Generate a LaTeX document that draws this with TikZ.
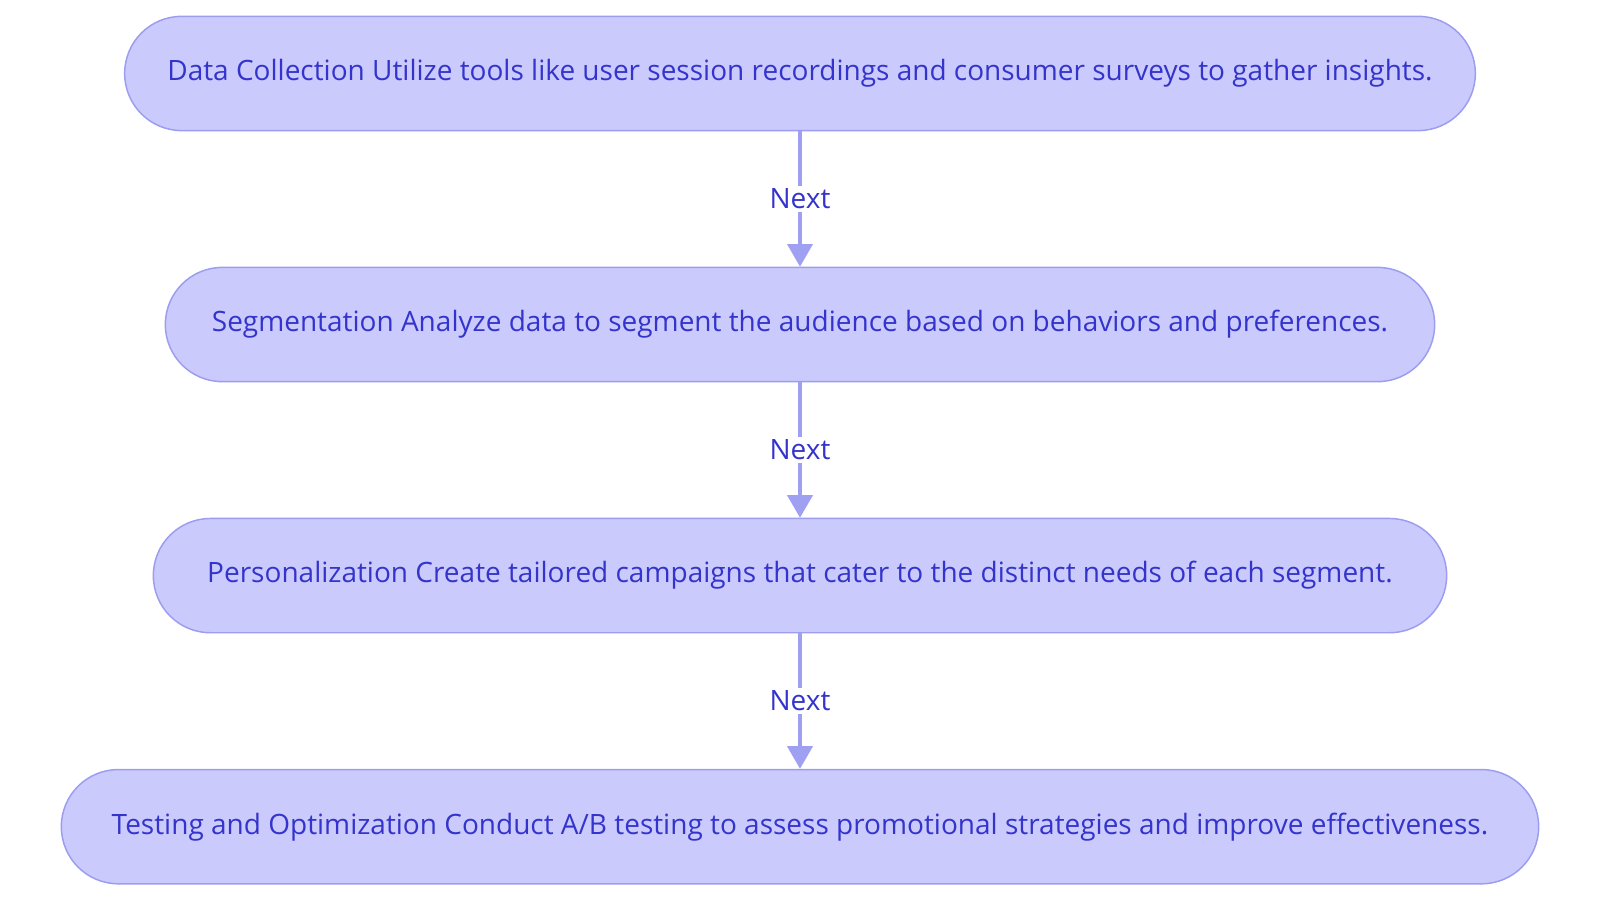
\documentclass[tikz,border=0pt]{standalone}
\usepackage{fontspec}
\setmainfont{Open Sans}
\usetikzlibrary{arrows.meta, positioning}
\definecolor{mfill}{HTML}{CACAFC}
\definecolor{mline}{HTML}{9C9CF0}
\definecolor{mtext}{HTML}{3434CC}
\definecolor{marrow}{HTML}{A0A0F2}
\tikzstyle{stage} = [rectangle, rounded corners=42.8pt, minimum height=85.7pt, text=mtext, fill=mfill, draw=mline, line width=1.1pt, font=\fontsize{21}{25}\selectfont]
\tikzstyle{flow} = [line width=2.3pt, draw=marrow, -{Triangle[length=17pt,width=19pt]}]
\tikzstyle{tag} = [fill=white, text=mtext, inner sep=2pt, font=\fontsize{21}{25}\selectfont]

\begin{document}
\begin{tikzpicture}[align=center, node distance=101.5pt]
  \useasboundingbox (0,0) rectangle (1200pt,-677.25pt);
  \node (collect) [stage, minimum width=1013pt] at (600pt,-55.1pt) {Data Collection Utilize tools like user session recordings and consumer surveys to gather insights.};
  \node (segment) [stage, minimum width=952pt, below = of collect] {Segmentation Analyze data to segment the audience based on behaviors and preferences.};
  \node (personal) [stage, minimum width=970pt, below = of segment] {Personalization Create tailored campaigns that cater to the distinct needs of each segment.};
  \node (testing) [stage, minimum width=1108pt, below = of personal] {Testing and Optimization Conduct A/B testing to assess promotional strategies and improve effectiveness.};
  \draw [flow] (collect) -- node[tag] {Next} (segment);
  \draw [flow] (segment) -- node[tag] {Next} (personal);
  \draw [flow] (personal) -- node[tag] {Next} (testing);
\end{tikzpicture}
\end{document}
